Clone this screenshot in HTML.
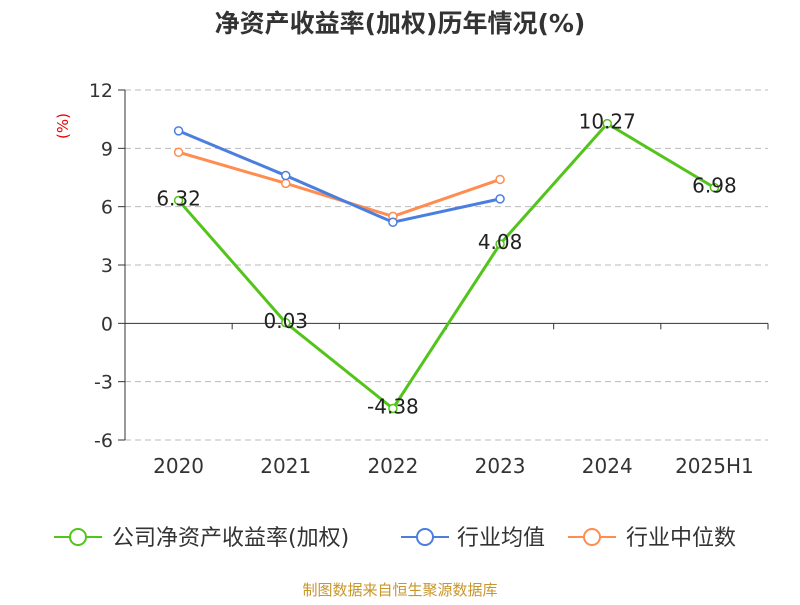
<!DOCTYPE html>
<html><head><meta charset="utf-8"><style>
body{margin:0;background:#fff;}
svg text{font-family:"DejaVu Sans","Noto Sans CJK SC",sans-serif;}
</style></head><body>
<svg id="chart" width="800" height="600" xmlns="http://www.w3.org/2000/svg">
<text x="400" y="32" text-anchor="middle" font-size="25" font-weight="bold" fill="#333">净资产收益率(加权)历年情况(%)</text>
<text transform="translate(68,126) rotate(-90)" text-anchor="middle" font-size="15" fill="#e00">(%)</text>
<g id="grid"></g><g id="axes"></g><g id="series"></g>
<g>
 <g><line x1="54" y1="537" x2="102" y2="537" stroke="#52c41a" stroke-width="2"/><circle cx="78" cy="537" r="8" fill="#fff" stroke="#52c41a" stroke-width="2"/><text x="112" y="545" font-size="22" fill="#333">公司净资产收益率(加权)</text></g>
 <g><line x1="401" y1="537" x2="449" y2="537" stroke="#4a7fe0" stroke-width="2"/><circle cx="425" cy="537" r="8" fill="#fff" stroke="#4a7fe0" stroke-width="2"/><text x="457" y="545" font-size="22" fill="#333">行业均值</text></g>
 <g><line x1="568" y1="537" x2="616" y2="537" stroke="#ff8c50" stroke-width="2"/><circle cx="592" cy="537" r="8" fill="#fff" stroke="#ff8c50" stroke-width="2"/><text x="626" y="545" font-size="22" fill="#333">行业中位数</text></g>
</g>
<text x="400" y="595" text-anchor="middle" font-size="15" fill="#c8962a">制图数据来自恒生聚源数据库</text>
</svg>
<script>
const categories=["2020","2021","2022","2023","2024","2025H1"];
const companyValues=[6.32,0.03,-4.38,4.08,10.27,6.98];
const industryAvg=[9.9,7.6,5.2,6.4,null,null];
const industryMedian=[8.8,7.2,5.5,7.4,null,null];
const yTicks=[12,9,6,3,0,-3,-6];
const NS="http://www.w3.org/2000/svg";
const L=125,R=768,T=90,B=440,yMin=-6,yMax=12;
const bw=(R-L)/categories.length;
const x=i=>L+bw*(i+0.5);
const y=v=>B-(v-yMin)/(yMax-yMin)*(B-T);
function mk(tag,attrs,parent,txt){const e=document.createElementNS(NS,tag);for(const k in attrs)e.setAttribute(k,attrs[k]);if(txt!==undefined)e.textContent=txt;parent.appendChild(e);return e;}
const grid=document.getElementById('grid'),axes=document.getElementById('axes'),ser=document.getElementById('series');
yTicks.forEach(t=>{
 if(t!==0){const g=mk('line',{x1:L,x2:R,y1:y(t),y2:y(t),stroke:'#bbb','stroke-dasharray':'6,4'},grid);
 
 }
 const tk=mk('line',{x1:L-7,x2:L,y1:y(t),y2:y(t),stroke:'#333'},axes);
 
 
 const lb=mk('text',{x:L-12,y:y(t)+7,'text-anchor':'end','font-size':19,fill:'#333'},axes,String(t));
 
 
});
const ya=mk('line',{x1:L,x2:L,y1:T,y2:B,stroke:'#333'},axes);


const xa=mk('line',{x1:L,x2:R,y1:y(0),y2:y(0),stroke:'#333'},axes);


for(let i=0;i<=categories.length;i++){const t=mk('line',{x1:L+bw*i,x2:L+bw*i,y1:y(0),y2:y(0)+6,stroke:'#333'},axes);
 
 }
categories.forEach((c,i)=>{const t=mk('text',{x:x(i),y:473,'text-anchor':'middle','font-size':20,fill:'#333'},axes,c);
 
 });
function line(vals,color,name){
 let d='';vals.forEach((v,i)=>{if(v!==null)d+=(d?'L':'M')+x(i)+','+y(v);});
 const p=mk('path',{d:d,fill:'none',stroke:color,'stroke-width':3},ser);
 
 
 vals.forEach((v,i)=>{if(v===null)return;const c=mk('circle',{cx:x(i),cy:y(v),r:4,fill:'#fff',stroke:color,'stroke-width':1.5},ser);
 
 });
}
line(industryMedian,'#ff8c50','industry-median');
line(industryAvg,'#4a7fe0','industry-average');
line(companyValues,'#52c41a','company-roe');
companyValues.forEach((v,i)=>{const t=mk('text',{x:x(i),y:y(v)+5,'text-anchor':'middle','font-size':20,fill:'#222'},ser,v.toFixed(2));
 
 });
</script>
</body></html>
